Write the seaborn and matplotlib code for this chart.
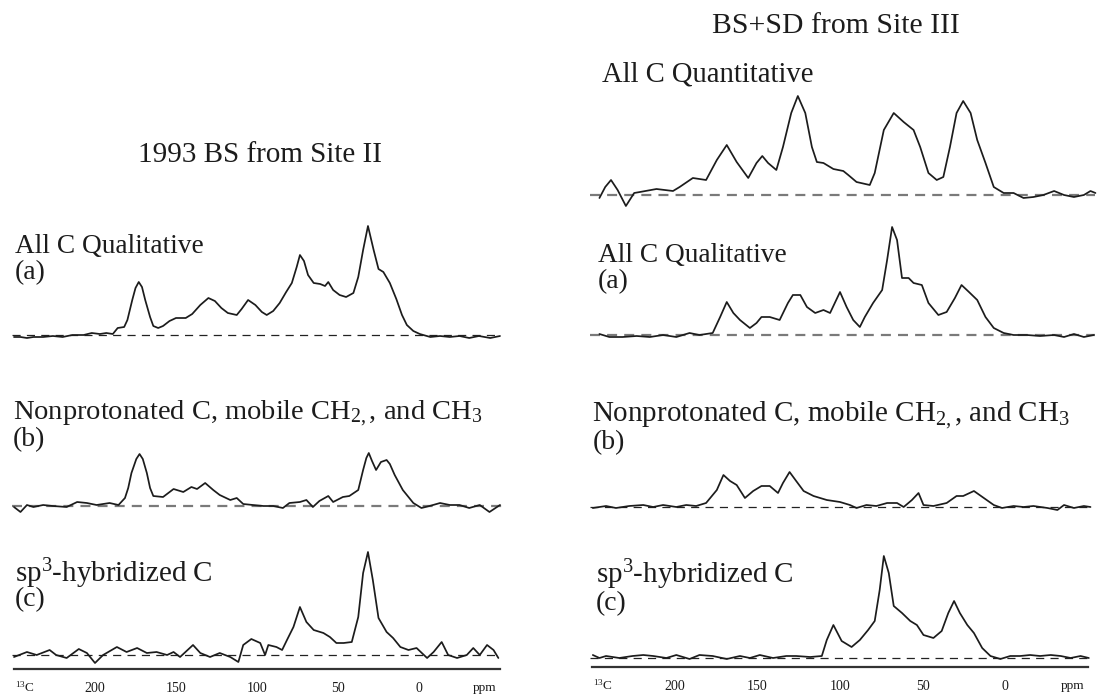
import numpy as np
import pandas as pd
import seaborn as sns
import matplotlib.pyplot as plt
from matplotlib.ticker import FixedLocator

# --- espectros (ppm, altura em px acima da linha de base) ---
# coluna esquerda: 1993 BS from Site II
la_ppm = [250, 246, 242, 238, 232, 226, 220, 214, 207, 202, 197, 193, 189, 186, 182, 180, 177, 175, 173, 171,
          169, 166, 164, 161, 158, 154, 150, 144, 140, 135, 130, 126, 122, 118, 112.5, 109.5, 105.5, 101, 97, 94,
          90, 86, 82, 78.5, 75.5, 73.5, 71, 68.5, 65, 61, 58, 56, 53, 49, 45, 40.5, 37.5, 34.5, 31.5, 28,
          25, 22, 18, 14, 10.5, 7.5, 3.5, -0.5, -7, -13, -19, -25, -31, -37, -44, -50]
la_int = [-2, -2, -3, -2, -2, -1, -2, 0, 0, 2, 1, 2, 1, 7, 8, 15, 35, 47, 53, 48,
          35, 18, 9, 7, 9, 14, 17, 17, 21, 30, 37, 34, 27, 22, 20, 26, 35, 30, 23, 20,
          24, 32, 43, 52, 68, 80, 74, 60, 52, 51, 49, 53, 45, 40, 38, 42, 58, 85, 109, 85,
          66, 63, 52, 36, 20, 10, 4, 1, -2, -1, -2, -1, -3, -1, -3, -1]

lb_ppm = [250, 246, 242, 238, 232, 226, 217.5, 211, 205, 199, 191, 185.5, 181.5, 179.5, 177.5, 174.5, 172.5, 170.5, 168, 166,
          164, 158, 151.5, 145.5, 140.5, 137, 132, 127, 123, 116.5, 112.5, 108.5, 102.5, 96, 90, 84, 80, 73.5, 69.5, 65.5,
          61.5, 56, 53, 47, 43, 37.5, 34.5, 32.5, 31, 29, 26.5, 23.5, 20, 18, 15, 10, 3.5, -1.5, -6.5, -13,
          -19, -25, -31, -37.5, -43.5, -50]
lb_int = [-1, -6, 1, -1, 1, 0, -1, 4, 3, 1, 3, 1, 8, 18, 33, 47, 52, 47, 33, 18,
          10, 9, 17, 14, 19, 17, 23, 16, 11, 6, 8, 2, 1, 0, 0, -2, 3, 4, 6, -1,
          5, 10, 4, 9, 10, 16, 36, 48, 53, 45, 36, 44, 46, 42, 31, 16, 3, -2, 0, 3,
          1, 1, -2, 1, -6, 1]

lc_ppm = [250, 242, 236, 228, 224, 217.5, 210, 205, 200, 195, 186.5, 180.5, 174, 168, 162, 155.5, 151.5, 147.5, 139.5, 135,
          129, 123, 116.5, 111.5, 108.5, 103.5, 98, 95, 93, 88, 84.5, 81.5, 77.5, 73.5, 69.5, 65, 59, 55, 51, 46.5,
          41.5, 37.5, 34.5, 31.5, 28.5, 25, 20, 16, 11.5, 6.5, 1.5, -5, -9, -14, -18, -23.5, -29.5, -33.5, -37.5, -42,
          -46, -49]
lc_int = [-2, 3, 0, 5, 0, -3, 6, 2, -8, 0, 8, 3, 7, 2, 3, 0, 3, -2, 10, 2,
          -2, 2, -2, -7, 10, 16, 12, 0, 10, 8, 5, 15, 28, 48, 33, 25, 22, 18, 12, 12,
          13, 38, 82, 103, 75, 37, 23, 17, 8, 5, 7, -3, 3, 13, 0, -3, 0, 7, 0, 10,
          5, -3]

# coluna direita: BS+SD from Site III
rq_ppm = [245.5, 242, 238.5, 234.5, 229.5, 224.5, 221, 211, 201, 197, 189, 181, 174.5, 168.5, 162.5, 155.5, 150.5, 147, 143.5, 138.5,
          134.5, 129.5, 125.5, 121, 117, 114, 110, 104, 98, 95, 90, 82, 79, 73.5, 67.5, 61.5, 55.5, 51.5, 46.5, 41.5,
          37.5, 33.5, 29.5, 25.5, 21, 17, 12, 7, 1, -5, -11, -17, -23, -29.5, -35.5, -41.5, -47.5, -51.5, -54.5]
rq_int = [-3, 8, 15, 5, -11, 2, 3, 6, 4, 8, 17, 15, 35, 50, 33, 17, 32, 39, 32, 25,
          48, 82, 99, 82, 48, 33, 32, 26, 24, 20, 13, 10, 22, 65, 82, 73, 65, 48, 22, 15,
          18, 48, 82, 94, 82, 55, 32, 8, 2, 2, -3, -2, 0, 4, 0, -2, 0, 4, 2]

ra_ppm = [245.5, 239.5, 231.5, 223, 215, 207, 199, 191, 185, 177, 172.5, 168.5, 164.5, 160.5, 154.5, 150.5, 147.5, 142.5, 136.5, 131.5,
          128.5, 124, 120, 115, 110, 106, 100, 96, 92, 88, 85, 80, 74.5, 71.5, 68.5, 65.5, 62.5, 58.5, 55.5, 50.5,
          46.5, 40.5, 35.5, 30.5, 26.5, 22, 17, 12, 7, 1, -5, -13, -21, -29.5, -35.5, -41.5, -47.5, -53.5]
ra_int = [1, -2, -2, -1, -2, 0, -2, 2, 0, 2, 18, 33, 22, 15, 7, 12, 18, 18, 15, 32,
          40, 40, 28, 22, 25, 22, 43, 28, 15, 8, 18, 32, 45, 75, 108, 95, 57, 57, 52, 50,
          32, 20, 23, 37, 50, 43, 35, 18, 7, 2, 0, 0, -1, 0, -2, 1, -2, 0]

rb_ppm = [249.5, 241.5, 235.5, 227.5, 219, 213, 207, 199, 193, 187, 181, 174.5, 170.5, 166.5, 162.5, 157.5, 152.5, 147.5, 142.5, 137.5,
          134.5, 130.5, 126.5, 122, 116, 108, 100, 94, 90, 84, 78, 71.5, 65.5, 61.5, 56.5, 52.5, 49.5, 43.5, 35.5, 29.5,
          25.5, 19, 13, 7, 2, -5, -11, -17, -25.5, -31.5, -35.5, -41.5, -47.5, -51.5]
rb_int = [-1, 1, -1, 1, 2, 0, 2, 0, 2, 1, 4, 17, 32, 26, 22, 9, 16, 21, 21, 14,
          24, 35, 26, 16, 11, 7, 5, 2, -1, 2, 1, 4, 4, 0, 7, 14, 2, 1, 4, 11,
          11, 16, 9, 2, -1, 1, 0, 1, -1, -3, 2, -1, 1, 0]

rc_ppm = [249.5, 245.5, 241.5, 233.5, 225.5, 219, 213, 205, 199, 191, 185, 177, 168.5, 160.5, 154.5, 148.5, 140.5, 132.5, 126.5, 118,
          111, 108, 104, 99, 93, 88, 83, 79, 76, 73.5, 70.5, 67.5, 62.5, 57.5, 53.5, 49.5, 43.5, 38.5, 34.5, 31,
          27.5, 23, 19, 14, 9, 3, -3, -9, -15, -21, -27.5, -33.5, -39.5, -45.5, -50.5]
rc_int = [3, 0, 2, 0, 2, 3, 2, 0, 3, -1, 3, 2, -1, 2, 0, 3, 0, 2, 2, 1,
          2, 18, 33, 17, 11, 18, 28, 37, 68, 102, 85, 52, 45, 37, 33, 23, 20, 27, 45, 57,
          45, 33, 25, 10, 2, -1, 2, 2, 3, 2, 3, 2, 0, 2, 0]

titles = ['1993 BS from Site II', 'BS+SD from Site III']
major_ticks = [200, 150, 100, 50, 0]

# --- figura ---
W, H = 1111, 698
sns.set_style('white')
plt.rcParams['font.family'] = ['Liberation Serif', 'DejaVu Serif']
plt.rcParams['mathtext.fontset'] = 'custom'
plt.rcParams['mathtext.rm'] = 'Liberation Serif'
plt.rcParams['mathtext.it'] = 'Liberation Serif:italic'

fig = plt.figure(figsize=(W / 100, H / 100), dpi=100)
ink = '#1c1c1c'


def px_axes(x0, x1, top, bottom):
    return fig.add_axes([x0 / W, 1 - bottom / H, (x1 - x0) / W, (bottom - top) / H])


def ftext(x, y, s, fs=20, **kw):
    fig.text(x / W, 1 - y / H, s, fontsize=fs, color=ink, **kw)


cols = {'L': (14, 500), 'R': (592, 1088)}

# (coluna, linha de base em px, ppm, intensidade, estilo da tracejada)
spectra = [
    ('L', 335, la_ppm, la_int, 'k'),
    ('L', 506, lb_ppm, lb_int, 'g'),
    ('L', 655, lc_ppm, lc_int, 'k'),
    ('R', 195, rq_ppm, rq_int, 'g'),
    ('R', 335, ra_ppm, ra_int, 'g'),
    ('R', 507, rb_ppm, rb_int, 'k'),
    ('R', 658, rc_ppm, rc_int, 'k'),
]

for col, base, ppm, inten, dash in spectra:
    x0, x1 = cols[col]
    ax = px_axes(x0, x1, base - 115, base + 15)
    ax.set_xlim(250, -50)
    ax.set_ylim(-15, 115)
    ax.set_axis_off()
    if dash == 'g':
        ax.axhline(0, xmin=-0.005, xmax=1.015, color='#7a7a7a', lw=1.6,
                   ls=(0, (4.5, 3.2)), clip_on=False, zorder=1)
    else:
        ax.axhline(0, xmin=-0.005, xmax=1.0, color='#222222', lw=0.9,
                   ls=(0, (6.5, 5)), clip_on=False, zorder=1)
    df = pd.DataFrame({'ppm': ppm, 'int': inten})
    sns.lineplot(data=df, x='ppm', y='int', ax=ax, color=ink, linewidth=1.25,
                 estimator=None, sort=False, clip_on=False, zorder=2)

# eixos de ppm
for col, ay in [('L', 669), ('R', 667)]:
    x0, x1 = cols[col]
    ax = px_axes(x0, x1, ay - 10, ay)
    ax.set_xlim(250, -50)
    ax.set_ylim(0, 1)
    for s in ['left', 'right', 'top']:
        ax.spines[s].set_visible(False)
    ax.spines['bottom'].set_color('#333333')
    ax.spines['bottom'].set_linewidth(1.6)
    ax.set_yticks([])
    ax.set_xticks(major_ticks)
    ax.set_xticklabels([str(t) for t in major_ticks])
    ax.xaxis.set_minor_locator(FixedLocator([t for t in range(240, -41, -10) if t not in major_ticks]))
    ax.tick_params(axis='x', which='major', direction='out', length=7, width=1.1,
                   color='#333333', labelsize=10, pad=2, labelcolor=ink)
    ax.tick_params(axis='x', which='minor', direction='out', length=4.5, width=1.1, color='#333333')
    ax.patch.set_alpha(0)
    ftext(x0 + 1, ay + 23, r'$^{13}$C', fs=9.5)
    ftext(x1 - 27, ay + 22, 'ppm', fs=9.5)

# textos
ftext(260, 162, titles[0], fs=21, ha='center')
ftext(836, 33, titles[1], fs=21.4, ha='center')
ftext(602, 82, 'All C Quantitative', fs=20.6)

ftext(15, 253, 'All C Qualitative', fs=19.7)
ftext(15, 279, '(a)')
ftext(13, 420, r'Nonprotonated C, mobile CH$_{2,}$, and CH$_{3}$', fs=20.5)
ftext(13, 446, '(b)')
ftext(15, 582, r'sp$^{3}$-hybridized C', fs=20.9)
ftext(15, 606, '(c)')

ftext(598, 262, 'All C Qualitative', fs=19.7)
ftext(598, 288, '(a)')
ftext(592, 421, r'Nonprotonated C, mobile CH$_{2,}$, and CH$_{3}$', fs=20.9)
ftext(593, 449, '(b)')
ftext(596, 583, r'sp$^{3}$-hybridized C', fs=20.9)
ftext(596, 610, '(c)')

fig.savefig('out.png', dpi=100)
